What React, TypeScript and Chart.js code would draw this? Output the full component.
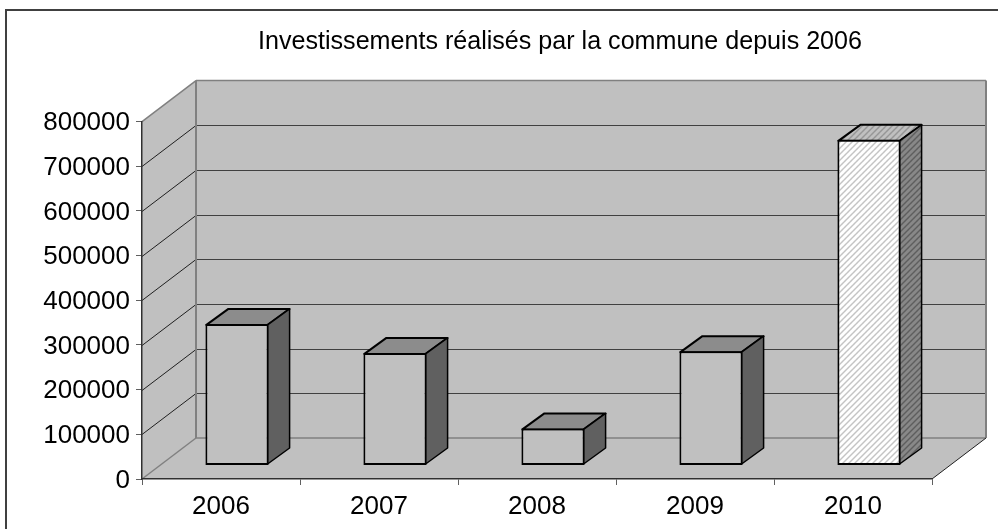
import React, { useEffect, useRef } from "react";
import { Chart, registerables } from "chart.js";

Chart.register(...registerables);

const categories = ["2006", "2007", "2008", "2009", "2010"];
const investments = [317000, 252000, 83000, 256000, 729000];
const titleText = "Investissements réalisés par la commune depuis 2006";
const highlightedIndex = 4;

const FONT = "'Liberation Sans', Arial, sans-serif";
const WALL = "#c0c0c0";
const DEPTH_X = 54;
const DEPTH_Y = 41;
const BAR_SHIFT_X = 16;
const BAR_SHIFT_Y = 13.5;
const BAR_DEPTH_X = 22;
const BAR_DEPTH_Y = 16;

function hatch(bg: string, fg: string): CanvasPattern {
  const size = 6;
  const c = document.createElement("canvas");
  c.width = size;
  c.height = size;
  const g = c.getContext("2d")!;
  for (let y = 0; y < size; y++) {
    for (let x = 0; x < size; x++) {
      g.fillStyle = (x + y) % size < 2 ? fg : bg;
      g.fillRect(x, y, 1, 1);
    }
  }
  return g.createPattern(c, "repeat")!;
}

function poly(ctx: CanvasRenderingContext2D, pts: number[][], fill: any, stroke?: string, lw = 1) {
  ctx.beginPath();
  pts.forEach((p, i) => (i ? ctx.lineTo(p[0], p[1]) : ctx.moveTo(p[0], p[1])));
  ctx.closePath();
  if (fill) {
    ctx.fillStyle = fill;
    ctx.fill();
  }
  if (stroke) {
    ctx.strokeStyle = stroke;
    ctx.lineWidth = lw;
    ctx.stroke();
  }
}

function seg(ctx: CanvasRenderingContext2D, x1: number, y1: number, x2: number, y2: number, color: string, lw = 1) {
  ctx.beginPath();
  ctx.moveTo(x1, y1);
  ctx.lineTo(x2, y2);
  ctx.strokeStyle = color;
  ctx.lineWidth = lw;
  ctx.stroke();
}

const scenePlugin = {
  id: "scene3d",
  afterLayout(chart: any) {
    const t = chart.titleBlock;
    if (t) {
      t.left = 258;
      t.right = 862;
    }
  },
  beforeDraw(chart: any) {
    const ctx: CanvasRenderingContext2D = chart.ctx;
    const { left, right, top, bottom } = chart.chartArea;
    const y = chart.scales.y;
    ctx.save();
    // outer frame (left and top only)
    seg(ctx, 6, 10, 998, 10, "#404040", 2);
    seg(ctx, 6, 9, 6, 529, "#404040", 2);
    const bx = DEPTH_X;
    const by = DEPTH_Y;
    poly(ctx, [[left + bx, top - by], [right + bx, top - by], [right + bx, bottom - by], [left + bx, bottom - by]], WALL);
    poly(ctx, [[left, top], [left + bx, top - by], [left + bx, bottom - by], [left, bottom]], WALL);
    poly(ctx, [[left, bottom], [right, bottom], [right + bx, bottom - by], [left + bx, bottom - by]], WALL);
    y.ticks.forEach((t: any) => {
      const py = Math.round(y.getPixelForValue(t.value)) + 0.5;
      if (t.value === 0 || t.value === 800000) return;
      seg(ctx, left, py, left + bx, py - by, "#202020");
      seg(ctx, left + bx, py - by, right + bx, py - by, "#404040", 1);
    });
    const g = "#808080";
    seg(ctx, left, top, left + bx, top - by, g, 1.5);
    seg(ctx, left + bx, top - by, right + bx, top - by, g, 1.5);
    seg(ctx, left + bx, top - by, left + bx, bottom - by, g, 2);
    seg(ctx, right + bx, top - by, right + bx, bottom - by, g, 2);
    seg(ctx, left + bx, bottom - by, right + bx, bottom - by, g, 1.5);
    seg(ctx, left, bottom, left + bx, bottom - by, g, 1.5);
    seg(ctx, right, bottom, right + bx, bottom - by, "#202020", 1);
    ctx.restore();
  },
  beforeDatasetDraw(chart: any, args: any) {
    const ctx: CanvasRenderingContext2D = chart.ctx;
    ctx.save();
    ctx.translate(BAR_SHIFT_X, -BAR_SHIFT_Y);
    args.meta.data.forEach((bar: any, i: number) => {
      const l = bar.x - bar.width / 2 + 1;
      const r = bar.x + bar.width / 2 - 1;
      const t = bar.y + 1;
      const b = bar.base - 1;
      const hi = i === highlightedIndex;
      const topFill = hi ? hatch("#c0c0c0", "#969696") : "#8c8c8c";
      const sideFill = hi ? hatch("#888888", "#5e5e5e") : "#606060";
      ctx.lineJoin = "round";
      poly(ctx, [[l, t], [l + BAR_DEPTH_X, t - BAR_DEPTH_Y], [r + BAR_DEPTH_X, t - BAR_DEPTH_Y], [r, t]], topFill, "#000000", 2);
      poly(ctx, [[r, t], [r + BAR_DEPTH_X, t - BAR_DEPTH_Y], [r + BAR_DEPTH_X, b - BAR_DEPTH_Y], [r, b]], sideFill, "#000000", 1.5);
    });
  },
  afterDatasetDraw(chart: any) {
    chart.ctx.restore();
  },
};

export default function App() {
  const ref = useRef<HTMLCanvasElement>(null);
  useEffect(() => {
    const chart = new Chart(ref.current!, {
      type: "bar",
      data: {
        labels: categories,
        datasets: [
          {
            data: investments,
            clip: false,
            backgroundColor: categories.map((_, i) =>
              i === highlightedIndex ? hatch("#ffffff", "#c4c4c4") : "#c0c0c0"
            ),
            borderColor: "#000000",
            borderWidth: 2,
            borderSkipped: false,
            categoryPercentage: 1,
            barPercentage: 0.4,
          } as any,
        ],
      },
      options: {
        responsive: false,
        animation: false,
        layout: { padding: { left: 0, top: 0, right: 66, bottom: 0 } },
        plugins: {
          legend: { display: false },
          tooltip: { enabled: false },
          title: {
            display: true,
            text: titleText,
            color: "#000000",
            font: { family: FONT, size: 25.1, weight: "normal", lineHeight: 1.2 },
            padding: { top: 27.5, bottom: 64 },
          },
        },
        scales: {
          x: {
            afterFit(s: any) {
              s.height = 50;
            },
            border: { color: "#303030", width: 1.5 },
            grid: { drawOnChartArea: false, drawTicks: true, tickLength: 6, color: "#606060" },
            ticks: {
              color: "#000000",
              font: { family: FONT, size: 26 },
              maxRotation: 0,
              autoSkip: false,
              padding: 6,
            },
          },
          y: {
            min: 0,
            max: 800000,
            afterFit(s: any) {
              s.width = 142;
            },
            border: { color: "#303030", width: 1.5 },
            grid: { drawOnChartArea: false, drawTicks: true, tickLength: 6, color: "#606060" },
            ticks: {
              stepSize: 100000,
              color: "#000000",
              font: { family: FONT, size: 26 },
              padding: 6,
              labelOffset: 1.5,
              callback: (v: any) => String(v),
            },
          },
        },
      },
      plugins: [scenePlugin],
    } as any);
    return () => chart.destroy();
  }, []);
  return (
    <div style={{ position: "fixed", left: 0, top: 0, width: 998, height: 529, background: "#ffffff" }}>
      <canvas ref={ref} width={998} height={529} style={{ display: "block" }} />
    </div>
  );
}
